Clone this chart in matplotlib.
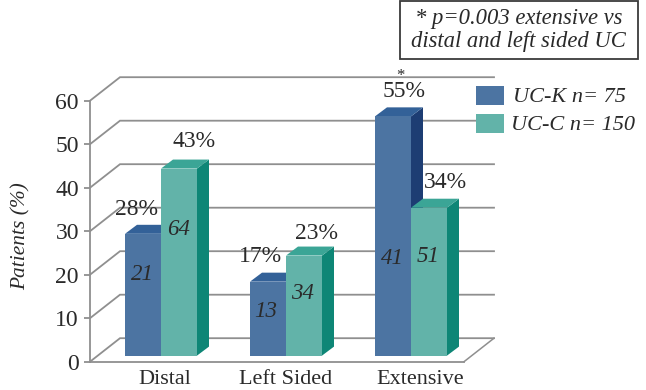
import numpy as np
import matplotlib
matplotlib.use("Agg")
import matplotlib.pyplot as plt
from matplotlib.patches import Polygon, Rectangle
from matplotlib.transforms import Affine2D

categories = ["Distal", "Left Sided", "Extensive"]
uck_pct = [28, 17, 55]
ucc_pct = [43, 23, 34]
uck_n = [21, 13, 41]
ucc_n = [64, 34, 51]
y_ticks = [0, 10, 20, 30, 40, 50, 60]
legend_labels = ["UC-K n= 75", "UC-C n= 150"]
note = "* p=0.003 extensive vs\ndistal and left sided UC"

W, H = 646, 390
PX_X = 125.0   # pixels per category
PX_Y = 4.35    # pixels per percent
X0 = 161.0     # pixel of category 0
Y0 = 361.7     # pixel of value 0

BAR_W = 36 / PX_X
BAR_BASE = 1.4              # bars stand a little way back from the front edge
BAR_DX, BAR_DY = 12 / PX_X, 9 / PX_Y
WALL_DX, WALL_DY = 30 / PX_X, 23.5 / PX_Y
LEFT = (90 - X0) / PX_X
RIGHT = (464 - X0) / PX_X

BLUE = ("#4c74a2", "#1d3d73", "#336198")
GREEN = ("#62b3a9", "#0e8676", "#3ba596")
GRID = "#8f8f8f"
INK = "#2a2a2a"
SERIF = "Liberation Serif"

plt.rcParams["font.family"] = SERIF
fig = plt.figure(figsize=(W / 100, H / 100), dpi=100)
ax = fig.add_axes([0, 0, 1, 1])
ax.set_xlim(-X0 / PX_X, (W - X0) / PX_X)
ax.set_ylim((Y0 - H) / PX_Y, Y0 / PX_Y)
ax.patch.set_alpha(0)

# pixel coordinates, y going down, for free standing labels
px = Affine2D().scale(1 / W, -1 / H).translate(0, 1) + fig.transFigure


def bar3d(x, value, colors):
    top = BAR_BASE + value
    front, side, lid = colors
    ax.add_patch(Polygon([(x + BAR_W, BAR_BASE), (x + BAR_W + BAR_DX, BAR_BASE + BAR_DY),
                          (x + BAR_W + BAR_DX, top + BAR_DY), (x + BAR_W, top)],
                         fc=side, ec="none", zorder=3))
    ax.add_patch(Polygon([(x, top), (x + BAR_DX, top + BAR_DY),
                          (x + BAR_W + BAR_DX, top + BAR_DY), (x + BAR_W, top)],
                         fc=lid, ec="none", zorder=3))
    ax.add_patch(Rectangle((x, BAR_BASE), BAR_W, value, fc=front, ec="none", zorder=3))


# walls and floor
for v in y_ticks:
    ax.plot([LEFT, LEFT + WALL_DX, RIGHT + WALL_DX], [v, v + WALL_DY, v + WALL_DY],
            color=GRID, lw=1.3, zorder=1, solid_joinstyle="miter")
ax.plot([RIGHT, RIGHT + WALL_DX], [0, WALL_DY], color=GRID, lw=1.1, zorder=1)

for i in range(len(categories)):
    bar3d(i - BAR_W, uck_pct[i], BLUE)
    bar3d(i, ucc_pct[i], GREEN)

# axes lines, ticks and their labels
for name in ("top", "right"):
    ax.spines[name].set_visible(False)
ax.spines["left"].set_position(("data", LEFT))
ax.spines["left"].set_bounds(0, 60)
ax.spines["bottom"].set_position(("data", 0))
ax.spines["bottom"].set_bounds(LEFT, RIGHT)
for name in ("left", "bottom"):
    ax.spines[name].set_color(GRID)
    ax.spines[name].set_linewidth(1.3)
ax.set_yticks(y_ticks)
ax.tick_params(axis="y", length=4, width=1.3, color=GRID, pad=4, labelsize=17, labelcolor=INK)
ax.set_xticks([0.03, 1.0, 2.07], categories)
ax.tick_params(axis="x", length=0, pad=6, labelsize=16, labelcolor=INK)
ax.text(21, 236, "Patients (%)", transform=px, rotation=90, style="italic",
        fontsize=15.4, color=INK, ha="center", va="center")

# percent labels above the bars
pct_pos = [(137, 215), (194, 147), (260, 262), (316, 239), (404, 97), (445, 188)]
pct_text = [p for pair in zip(uck_pct, ucc_pct) for p in pair]
for (x, y), p in zip(pct_pos, pct_text):
    ax.text(x, y, f"{p}%", transform=px, fontsize=17, color=INK, ha="center",
            va="baseline", zorder=5)
ax.text(400, 80, "*", transform=px, fontsize=12, color=INK, ha="center", va="baseline")

# patient counts on the bars
n_pos = [(142, 280), (179, 235), (266, 317), (303, 299), (392, 264), (428, 262)]
n_text = [n for pair in zip(uck_n, ucc_n) for n in pair]
for (x, y), n in zip(n_pos, n_text):
    ax.text(x, y, str(n), transform=px, fontsize=16.5, style="italic", color=INK,
            ha="center", va="baseline", zorder=5)

# legend
swatch_y = [86, 114]
text_x = [513, 511]
for sy, tx, colors, label in zip(swatch_y, text_x, (BLUE, GREEN), legend_labels):
    ax.add_patch(Rectangle((476, sy), 28, 19, fc=colors[0], ec="none", transform=px))
    ax.text(tx, sy + 16, label, transform=px, fontsize=16, style="italic", color=INK,
            ha="left", va="baseline")

# note box
ax.add_patch(Rectangle((400, 1), 237.5, 58, fc="white", ec="#3a3a3a", lw=1.3, transform=px,
                       clip_on=False))
ax.text(518.5, 30, note, transform=px, fontsize=16.3, style="italic", color=INK,
        ha="center", va="center", linespacing=1.1)

fig.savefig("out.png", dpi=100)
